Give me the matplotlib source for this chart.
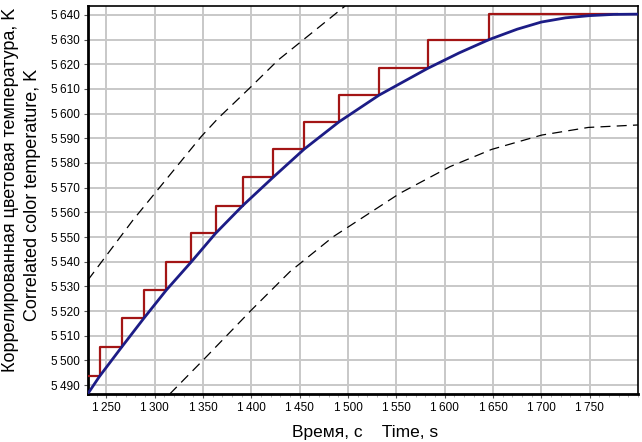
import matplotlib
matplotlib.use("Agg")
import matplotlib.pyplot as plt
from matplotlib.ticker import FixedLocator, MultipleLocator

# ---- data ----
# smooth (blue) correlated colour temperature curve
blue_t = [1231, 1243, 1266, 1288.6, 1312, 1338, 1363, 1391, 1422.5, 1454.6,
          1490.8, 1532.2, 1582.3, 1615, 1646, 1675, 1700, 1725, 1750, 1775, 1800]
blue_T = [5486.6, 5493.6, 5505.5, 5517.0, 5528.5, 5540.0, 5551.5, 5562.7, 5574.2, 5585.6,
          5596.7, 5607.5, 5618.3, 5624.6, 5630.0, 5634.2, 5637.1, 5638.8, 5639.7, 5640.2, 5640.3]

# stepped (red) measured curve: jump times and levels
red_t = [1231, 1243, 1266, 1288.6, 1312, 1338, 1363, 1391.4, 1422.5, 1454.6,
         1490.8, 1532.2, 1582.3, 1646, 1778]
red_T = [5493.6, 5505.5, 5517.0, 5528.5, 5540.0, 5551.5, 5562.7, 5574.2, 5585.6,
         5596.7, 5607.5, 5618.3, 5629.8, 5640.3]

# upper dashed bound
up_t = [1231, 1277.6, 1347.9, 1365.6, 1399.7, 1427.7, 1451.5, 1497]
up_T = [5532.6, 5556.9, 5590.6, 5598.1, 5610.9, 5621.7, 5629.2, 5643.6]

# lower dashed bound
lo_t = [1315.6, 1350, 1400, 1440, 1484.6, 1553.6, 1605.4, 1648.6, 1700.3, 1748.6, 1800]
lo_T = [5486.4, 5500.1, 5520.4, 5536.0, 5550.1, 5567.7, 5578.5, 5585.5, 5591.3, 5594.4, 5595.4]

x_ticks = [1250, 1300, 1350, 1400, 1450, 1500, 1550, 1600, 1650, 1700, 1750]
x_labels = ["1\u2009250", "1\u2009300", "1\u2009350", "1\u2009400", "1\u2009450", "1\u2009500",
            "1\u2009550", "1\u2009600", "1\u2009650", "1\u2009700", "1\u2009750"]
y_ticks = [5490, 5500, 5510, 5520, 5530, 5540, 5550, 5560, 5570, 5580, 5590,
           5600, 5610, 5620, 5630, 5640]
y_labels = ["5\u2009" + str(v)[1:] for v in y_ticks]

xlabel = "Время, с    Time, s"
ylabel1 = "Коррелированная цветовая температура, K"
ylabel2 = "Correlated color temperature, K"

# ---- figure ----
fig = plt.figure(figsize=(6.42, 4.42), dpi=100)
ax = fig.add_axes([88 / 642, 1 - 394 / 442, (638 - 88) / 642, (394 - 6) / 442])

ax.set_xlim(1231, 1800)
ax.set_ylim(5486.4, 5643.6)

ax.grid(True, color="#c8c8c8", lw=1.4, zorder=0)
ax.set_axisbelow(True)

ax.plot(up_t, up_T, color="black", lw=0.9, ls=(0, (8, 5)), zorder=2)
ax.plot(lo_t, lo_T, color="black", lw=0.9, ls=(0, (8, 5)), zorder=2)

ax.step(red_t, red_T + [red_T[-1]], where="post", color="#a31515", lw=1.6, zorder=3)
ax.plot(blue_t, blue_T, color="#1c1c86", lw=2.0, zorder=4)

ax.xaxis.set_major_locator(FixedLocator(x_ticks))
ax.set_xticklabels(x_labels)
ax.xaxis.set_minor_locator(MultipleLocator(10))
ax.yaxis.set_major_locator(FixedLocator(y_ticks))
ax.set_yticklabels(y_labels)

for lab in ax.get_xticklabels() + ax.get_yticklabels():
    lab.set_fontfamily("Liberation Sans")
    lab.set_fontsize(8.5)

ax.tick_params(axis="both", which="major", length=3, width=0.8, color="#555555", pad=3)
ax.tick_params(axis="x", which="minor", length=2, width=0.6, color="#aaaaaa")

for side in ["left", "bottom"]:
    ax.spines[side].set_linewidth(2.0)
for side in ["top", "right"]:
    ax.spines[side].set_linewidth(1.2)

fig.text(365 / 642, 1 - 432 / 442, xlabel, family="Liberation Sans", fontsize=12.5,
         ha="center", va="center")
fig.text(11 / 642, 1 - 190 / 442, ylabel1, family="Liberation Sans", fontsize=13,
         rotation=90, ha="center", va="center")
fig.text(33 / 642, 1 - 195 / 442, ylabel2, family="Liberation Sans", fontsize=13,
         rotation=90, ha="center", va="center")

fig.savefig("out.png", dpi=100)
